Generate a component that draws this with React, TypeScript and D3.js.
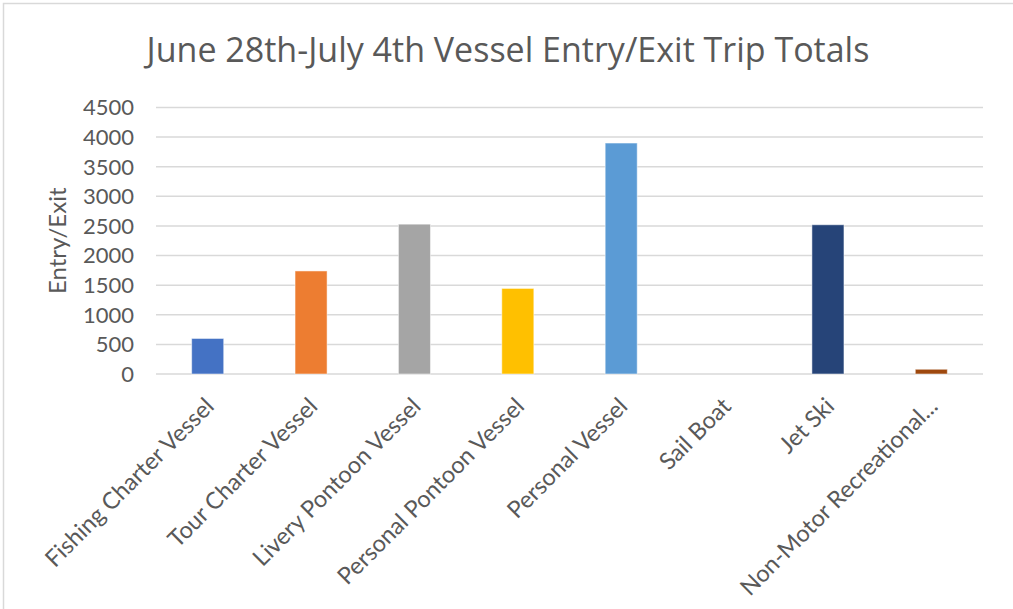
import React from "react";
import * as d3 from "d3";

const categories = [
  "Fishing Charter Vessel",
  "Tour Charter Vessel",
  "Livery Pontoon Vessel",
  "Personal Pontoon Vessel",
  "Personal Vessel",
  "Sail Boat",
  "Jet Ski",
  "Non-Motor Recreational...",
];
const values = [600, 1740, 2530, 1445, 3900, 0, 2520, 80];
const colors = ["#4472C4", "#ED7D31", "#A5A5A5", "#FFC000", "#5B9BD5", "#70AD47", "#264478", "#9E480E"];
const yTicks = [0, 500, 1000, 1500, 2000, 2500, 3000, 3500, 4000, 4500];
const title = "June 28th-July 4th Vessel Entry/Exit Trip Totals";
const yTitle = "Entry/Exit";

const W = 1013;
const H = 609;
const margin = { left: 156, right: 30, top: 107.5, bottom: 235 };

export default function App() {
  const x = d3
    .scaleBand<string>()
    .domain(categories)
    .range([margin.left, W - margin.right])
    .paddingInner(0.69)
    .paddingOuter(0.345);
  const y = d3.scaleLinear().domain([0, 4500]).range([374, 107.5]);
  const font = "Lato, 'Open Sans', sans-serif";
  const textColor = "#595959";
  return (
    <svg
      width={W}
      height={H}
      style={{ position: "absolute", left: 0, top: 0, background: "#fff" }}
      fontFamily={font}
    >
      <rect x={3.5} y={3.5} width={1030} height={630} fill="#fff" stroke="#D9D9D9" strokeWidth={1.5} />
      <text
        x={508}
        y={62}
        textAnchor="middle"
        fontSize={34}
        fill={textColor}
        fontFamily="'Open Sans', sans-serif"
      >
        {title}
      </text>
      {yTicks.map((t) => (
        <g key={t}>
          <line x1={margin.left} x2={W - margin.right} y1={y(t)} y2={y(t)} stroke="#D9D9D9" strokeWidth={1.5} />
          <text x={134} y={y(t)} dy="0.36em" textAnchor="end" fontSize={22} fill={textColor}>
            {t}
          </text>
        </g>
      ))}
      <text
        transform={`translate(58,${(y(0) + y(4500)) / 2}) rotate(-90)`}
        textAnchor="middle"
        dy="0.35em"
        fontSize={24}
        fill={textColor}
      >
        {yTitle}
      </text>
      {categories.map((c, i) => (
        <rect
          key={c}
          x={x(c)}
          y={y(values[i])}
          width={x.bandwidth()}
          height={y(0) - y(values[i])}
          fill={colors[i]}
          stroke="rgba(255,255,255,0.5)"
          strokeWidth={1}
        />
      ))}
      {categories.map((c) => {
        const cx = (x(c) as number) + x.bandwidth() / 2;
        return (
          <text
            key={c}
            transform={`translate(${cx + 2},${402}) rotate(-45)`}
            textAnchor="end"
            dy="0.35em"
            fontSize={23.5}
            fill={textColor}
          >
            {c}
          </text>
        );
      })}
    </svg>
  );
}
